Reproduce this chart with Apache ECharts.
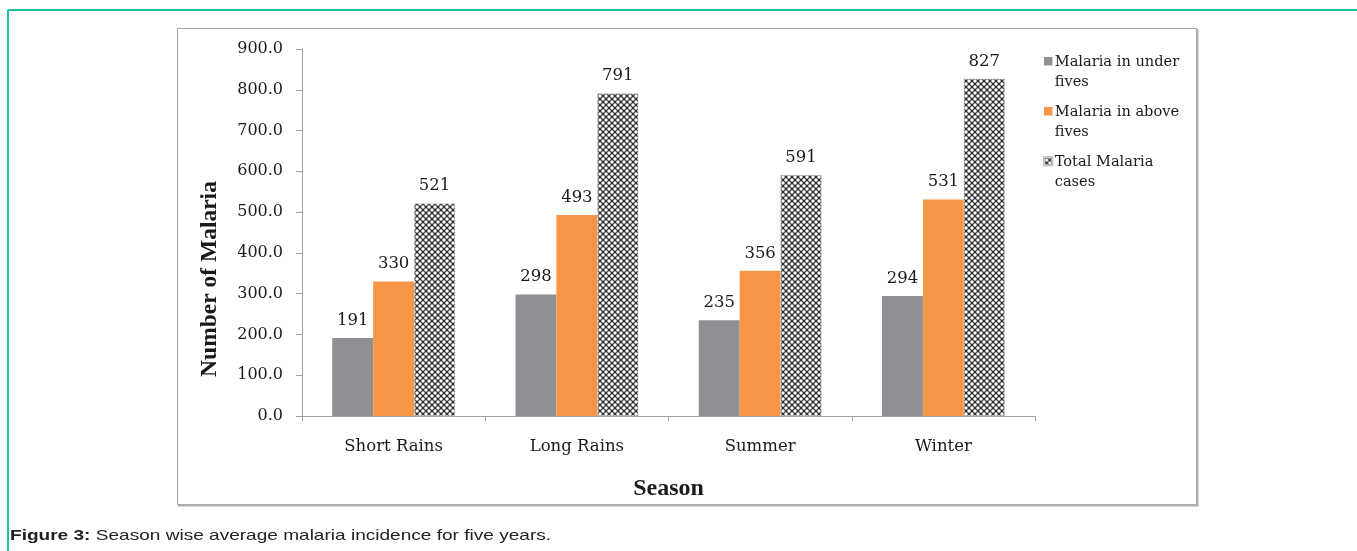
<!DOCTYPE html>
<html>
<head>
<meta charset="utf-8">
<script src="https://cdn.jsdelivr.net/npm/echarts@6/dist/echarts.min.js"></script>
<style>
  html, body { margin: 0; padding: 0; background: #fff; }
  #chart { width: 1357px; height: 551px; }
</style>
</head>
<body>
<div id="chart"></div>
<script>
// Season-wise malaria counts (average over five years)
const seasons = ['Short Rains', 'Long Rains', 'Summer', 'Winter'];
const underFives = [191, 298, 235, 294];
const aboveFives = [330, 493, 356, 531];
const totalCases = [521, 791, 591, 827];
const seriesNames = ['Malaria in under fives', 'Malaria in above fives', 'Total Malaria cases'];
const legendLabels = ['Malaria in under\nfives', 'Malaria in above\nfives', 'Total Malaria\ncases'];
const yTicks = { min: 0, max: 900, step: 100 };

// Checkered fill for the total bars
function makeCheckerTile() {
  const c = document.createElement('canvas');
  c.width = 6; c.height = 6;
  const g = c.getContext('2d');
  g.fillStyle = '#2b2b2b';
  g.fillRect(0, 0, 6, 6);
  g.fillStyle = '#ffffff';
  [[0, 0], [6, 0], [0, 6], [6, 6], [3, 3]].forEach(([x, y]) => {
    g.beginPath();
    g.arc(x, y, 1.75, 0, Math.PI * 2);
    g.fill();
  });
  return c;
}
const checker = { image: makeCheckerTile(), repeat: 'repeat' };

const serif = '"DejaVu Serif", serif';
const serifBold = '"Liberation Serif", "Times New Roman", serif';
const sans = '"Liberation Sans", Arial, sans-serif';
const ink = '#1a1a1a';

const labelStyle = {
  show: true,
  position: 'top',
  distance: 9,
  fontFamily: serif,
  fontSize: 16.5,
  color: ink
};

// legend icon: square in the top part so it lines up with the first text line
const legendIcon = 'path://M0,0L9,0L9,9L0,9Z M0,32L0.01,32Z';

const chart = echarts.init(document.getElementById('chart'), null, { renderer: 'canvas' });

chart.setOption({
  animation: false,
  backgroundColor: '#fff',
  graphic: [
    { type: 'line', shape: { x1: 8, y1: 10, x2: 1357, y2: 10 }, style: { stroke: '#1fbf9f', lineWidth: 2 } },
    { type: 'line', shape: { x1: 8, y1: 10, x2: 8, y2: 551 }, style: { stroke: '#1fbf9f', lineWidth: 2 } },
    { type: 'rect', shape: { x: 177.5, y: 28.5, width: 1019, height: 476 }, style: { fill: 'none', stroke: '#a6a6a6', lineWidth: 1 } },
    { type: 'line', shape: { x1: 1197.5, y1: 29, x2: 1197.5, y2: 506 }, style: { stroke: '#b0b0b0', lineWidth: 2 } },
    { type: 'line', shape: { x1: 178, y1: 505.5, x2: 1198, y2: 505.5 }, style: { stroke: '#b0b0b0', lineWidth: 2 } },
    // y-axis title, sits a little below the middle of the axis
    {
      type: 'text', x: 210, y: 279, rotation: Math.PI / 2,
      style: {
        text: 'Number of Malaria',
        fontFamily: serifBold, fontSize: 23.5, fontWeight: 'bold', fill: ink,
        align: 'center', verticalAlign: 'middle'
      }
    },
    // caption, set in a wide sans
    {
      type: 'text', x: 10, y: 536, scaleX: 1.27,
      style: {
        text: '{b|Figure 3:} Season wise average malaria incidence for five years.',
        rich: {
          b: { fontFamily: sans, fontSize: 15, fontWeight: 'bold', fill: '#222' }
        },
        fontFamily: sans, fontSize: 15, fill: '#222',
        verticalAlign: 'middle'
      }
    }
  ],
  grid: { left: 302, right: 322, top: 49, bottom: 135, containLabel: false },
  legend: {
    orient: 'vertical',
    left: 1038,
    top: 47,
    itemWidth: 9,
    itemHeight: 30,
    itemGap: 10,
    icon: legendIcon,
    data: seriesNames,
    formatter: name => legendLabels[seriesNames.indexOf(name)],
    textStyle: { fontFamily: serif, fontSize: 14.6, lineHeight: 20, color: ink, padding: [0, 0, 0, -3] }
  },
  xAxis: {
    type: 'category',
    data: seasons,
    name: 'Season',
    nameLocation: 'middle',
    nameGap: 61,
    nameTextStyle: { fontFamily: serifBold, fontSize: 24, fontWeight: 'bold', color: ink },
    axisLine: { lineStyle: { color: '#a0a0a0', width: 1 } },
    axisTick: { show: true, length: 5, lineStyle: { color: '#a0a0a0' } },
    axisLabel: { fontFamily: serif, fontSize: 16.5, color: ink, margin: 22 }
  },
  yAxis: {
    type: 'value',
    min: yTicks.min,
    max: yTicks.max,
    interval: yTicks.step,
    axisLine: { show: true, lineStyle: { color: '#a0a0a0', width: 1 } },
    axisTick: { show: true, length: 6, lineStyle: { color: '#a0a0a0' } },
    splitLine: { show: false },
    axisLabel: { fontFamily: serif, fontSize: 16, color: ink, margin: 19, formatter: v => v.toFixed(1) }
  },
  series: [
    {
      name: seriesNames[0], type: 'bar', data: underFives,
      barGap: '0%', barCategoryGap: '33%',
      itemStyle: { color: '#8f9093' },
      label: labelStyle
    },
    {
      name: seriesNames[1], type: 'bar', data: aboveFives,
      barGap: '0%', barCategoryGap: '33%',
      itemStyle: { color: '#f79646' },
      label: labelStyle
    },
    {
      name: seriesNames[2], type: 'bar', data: totalCases,
      barGap: '0%', barCategoryGap: '33%',
      itemStyle: { color: checker, borderColor: '#c8c8c8', borderWidth: 0.5 },
      label: labelStyle
    }
  ]
});
</script>
</body>
</html>
